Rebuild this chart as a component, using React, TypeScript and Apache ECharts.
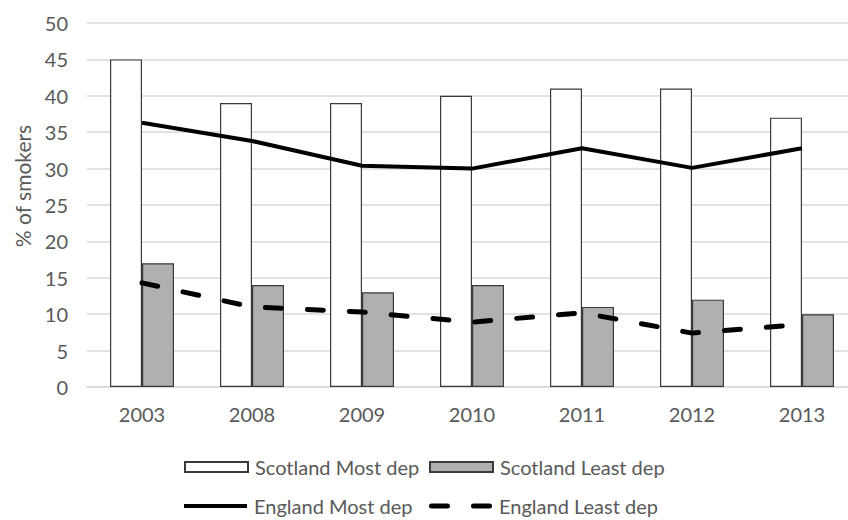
import React, { useEffect, useRef } from "react";
import * as echarts from "echarts";

const years = ["2003", "2008", "2009", "2010", "2011", "2012", "2013"];
const scotlandMost = [45, 39, 39, 40, 41, 41, 37];
const scotlandLeast = [17, 14, 13, 14, 11, 12, 10];
const englandMost = [36.3, 33.8, 30.4, 30.0, 32.8, 30.1, 32.8];
const englandLeast = [14.3, 11.0, 10.3, 8.9, 10.2, 7.4, 8.6];

const FONT = "Lato";
const TXT = "#595959";

const SOLID_ICON = "path://M0,0H63V4H0Z";
const DASH_ICON =
  "path://M2.5,0H18.5A2.5,2.5 0 0 1 18.5,5H2.5A2.5,2.5 0 0 1 2.5,0Z M44.5,0H60.5A2.5,2.5 0 0 1 60.5,5H44.5A2.5,2.5 0 0 1 44.5,0Z";

export default function App() {
  const ref = useRef<HTMLDivElement>(null);
  useEffect(() => {
    if (!ref.current) return;
    const chart = echarts.init(ref.current, undefined, { renderer: "svg" });
    const legendText = { color: TXT, fontSize: 20, fontFamily: FONT, padding: [0, 0, 0, 2] };
    const mkLegend = (item: any, left: number, top: number) => ({
      data: [item],
      left,
      top,
      padding: 0,
      itemWidth: 63,
      itemHeight: 10,
      textStyle: legendText,
    });
    const lineIconStyle = { color: "#000000", borderWidth: 0 };
    chart.setOption({
      animation: false,
      backgroundColor: "#ffffff",
      textStyle: { fontFamily: FONT },
      grid: { left: 87, right: 0, top: 23, bottom: 133, containLabel: false },
      xAxis: {
        type: "category",
        data: years,
        axisTick: { show: false },
        axisLine: { lineStyle: { color: "#d9d9d9", width: 1.5 } },
        axisLabel: { color: TXT, fontSize: 20, fontFamily: FONT, margin: 17 },
      },
      yAxis: {
        type: "value",
        min: 0,
        max: 50,
        interval: 5,
        axisLine: { show: false },
        axisTick: { show: false },
        axisLabel: { color: TXT, fontSize: 20, fontFamily: FONT, margin: 19 },
        splitLine: { lineStyle: { color: "#d9d9d9", width: 1.5 } },
      },
      legend: [
        mkLegend({ name: "Scotland Most dep", icon: "rect" }, 184, 457),
        mkLegend({ name: "Scotland Least dep", icon: "rect" }, 429, 457),
        mkLegend({ name: "England Most dep", icon: SOLID_ICON, itemStyle: lineIconStyle }, 184, 496),
        mkLegend({ name: "England Least dep", icon: DASH_ICON, itemStyle: lineIconStyle }, 429, 496),
      ],
      graphic: [
        {
          type: "text",
          x: 22,
          y: 186,
          rotation: Math.PI / 2,
          style: {
            text: "% of smokers",
            fill: TXT,
            font: `21px ${FONT}`,
            align: "center",
            verticalAlign: "middle",
          },
        },
      ],
      series: [
        {
          name: "Scotland Most dep",
          type: "bar",
          data: scotlandMost,
          barWidth: 32,
          barGap: "0%",
          itemStyle: { color: "#ffffff", borderColor: "#3a3a3a", borderWidth: 1.2 },
        },
        {
          name: "Scotland Least dep",
          type: "bar",
          data: scotlandLeast,
          barWidth: 32,
          barGap: "0%",
          itemStyle: { color: "#b0b0b0", borderColor: "#3a3a3a", borderWidth: 1.2 },
        },
        {
          name: "England Most dep",
          type: "line",
          data: englandMost,
          symbol: "none",
          itemStyle: { color: "#000000" },
          lineStyle: { color: "#000000", width: 4 },
        },
        {
          name: "England Least dep",
          type: "line",
          data: englandLeast,
          symbol: "none",
          itemStyle: { color: "#000000" },
          lineStyle: { color: "#000000", width: 5, type: [16, 26], cap: "round" },
        },
      ],
    });
    return () => chart.dispose();
  }, []);
  return (
    <div
      style={{
        position: "fixed",
        left: 0,
        top: 0,
        width: 848,
        height: 520,
        overflow: "hidden",
        background: "#ffffff",
      }}
    >
      <div ref={ref} style={{ width: 857, height: 520 }} />
    </div>
  );
}
